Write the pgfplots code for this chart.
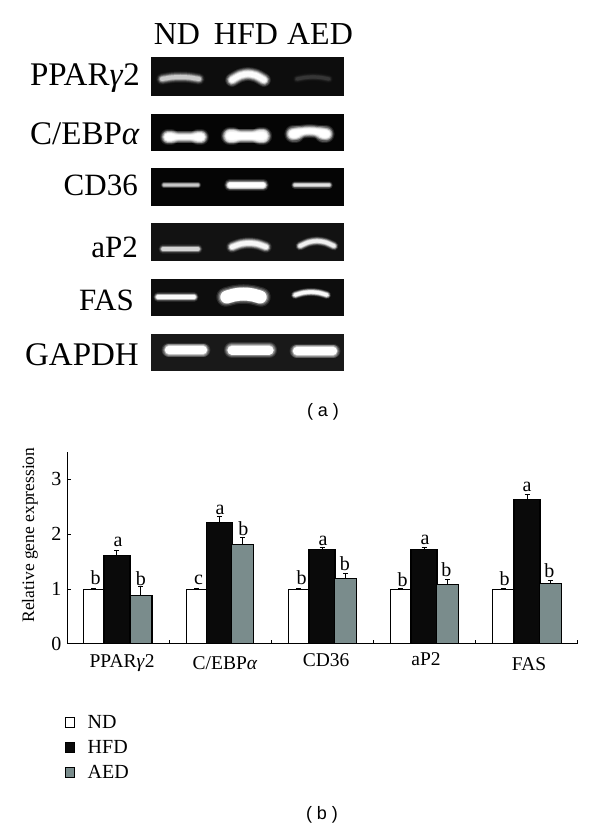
\documentclass[border=0pt]{standalone}
\usepackage{fontspec}
\setmainfont{Liberation Serif}
\newfontfamily\sansf{Liberation Sans}
\usepackage{pgfplots}
\usepackage{pgfplotstable}
\pgfplotsset{compat=1.18}

\definecolor{aedgray}{HTML}{7A8C8C}
\definecolor{barblack}{HTML}{0A0A0A}

% x (category units), value, upper error
\pgfplotstableread{
x     y    err
0.26  1.00 0.01
1.27  1.00 0.01
2.27  1.00 0.01
3.27  1.00 0.01
4.275 1.00 0.01
}\nddata
\pgfplotstableread{
x     y    err
0.49  1.62 0.09
1.494 2.22 0.10
2.50  1.72 0.03
3.50  1.72 0.03
4.51  2.63 0.10
}\hfddata
\pgfplotstableread{
x     y    err
0.725 0.89 0.15
1.72  1.81 0.13
2.733 1.20 0.085
3.73  1.09 0.085
4.738 1.11 0.055
}\aeddata

\newcommand{\fs}[1]{\fontsize{#1}{#1}\selectfont}
% gel panel: top, bottom, colour (pixel coordinates)
\newcommand{\panel}[3]{\addplot[draw=none,fill=#3] coordinates {(151,#1) (344,#1) (344,#2) (151,#2)} --cycle;}
% one layer of a band: x left, x right, y ends, y middle, line width, opacity
\newcommand{\bandlayer}[6]{%
  \addplot[white,opacity=#6,line cap=round,smooth,line width=#5] coordinates {
    (#1,#3)
    ({#1+0.25*(#2-#1)},{#3+0.75*(#4-#3)})
    ({#1+0.5*(#2-#1)},#4)
    ({#1+0.75*(#2-#1)},{#3+0.75*(#4-#3)})
    (#2,#3)};
}
% gel band: x left, x right, y at ends, y in the middle, thickness, brightness
\newcommand{\band}[6]{%
  \bandlayer{#1}{#2}{#3}{#4}{#5*1.15pt}{#6*0.12}
  \bandlayer{#1}{#2}{#3}{#4}{#5*1.0pt}{#6*0.2}
  \bandlayer{#1}{#2}{#3}{#4}{#5*0.85pt}{#6*0.3}
  \bandlayer{#1}{#2}{#3}{#4}{#5*0.7pt}{#6*0.5}
  \bandlayer{#1}{#2}{#3}{#4}{#5*0.55pt}{#6*0.7}
  \bandlayer{#1}{#2}{#3}{#4}{#5*0.4pt}{#6}
}

\begin{document}
\begin{tikzpicture}
\path[use as bounding box] (0,0) rectangle (600pt,832pt);

% gel photographs, in pixel coordinates of the page
\begin{axis}[
  at={(0pt,0pt)}, anchor=south west,
  scale only axis, width=600pt, height=832pt,
  xmin=0, xmax=600, ymin=0, ymax=832, y dir=reverse,
  hide axis, clip=false,
]
\panel{57}{96}{black!95!white}
\panel{114}{151}{black!98!white}
\panel{168}{206}{black!98!white}
\panel{223}{261}{black!93!white}
\panel{279}{316}{black!95!white}
\panel{334}{371}{black!90!white}

\band{162}{199}{79}{77}{10}{0.45}
\band{232}{264}{80}{74}{12}{0.9}
\band{297}{329}{79}{77}{8}{0.07}

\band{168}{201}{137}{137}{11}{0.9}
\band{168}{171}{137}{137}{14}{0.9}
\band{198}{201}{137}{137}{14}{0.9}
\band{230}{263}{136}{136}{13}{1}
\band{230}{233}{136}{136}{16}{1}
\band{260}{263}{136}{136}{16}{1}
\band{293}{326}{134}{131}{12}{1}
\band{293}{296}{134}{134}{15}{1}
\band{323}{326}{134}{134}{15}{1}

\band{164}{198}{185}{185}{6}{0.45}
\band{230}{263}{185}{185}{10}{1}
\band{295}{329}{185}{185}{7}{0.6}

\band{163}{198}{249}{249}{8}{0.5}
\band{232}{266}{247}{243}{10}{0.8}
\band{300}{334}{246}{241}{8}{0.7}

\band{158}{194}{297}{297}{8}{0.85}
\band{226}{261}{297}{294}{17}{1}
\bandlayer{227}{260}{297}{294}{13pt}{1}
\band{295}{327}{295}{292}{7}{0.85}

\band{169}{203}{350}{350}{13}{1}
\bandlayer{169}{203}{350}{350}{8pt}{1}
\band{232}{269}{350}{350}{14}{1}
\bandlayer{232}{269}{350}{350}{9pt}{1}
\band{297}{333}{351}{351}{13}{1}
\bandlayer{297}{333}{351}{351}{8pt}{1}

\node[anchor=base] at (axis cs:177,45) {\fs{32}ND};
\node[anchor=base] at (axis cs:246,45) {\fs{32}HFD};
\node[anchor=base] at (axis cs:320,45) {\fs{32}AED};
\node[anchor=base east,inner sep=0pt] at (axis cs:140,86) {\fs{33}PPAR\textit{γ}2};
\node[anchor=base east,inner sep=0pt] at (axis cs:140,144) {\fs{33}C/EBP\textit{α}};
\node[anchor=base east,inner sep=0pt] at (axis cs:138,195) {\fs{31}CD36};
\node[anchor=base east,inner sep=0pt] at (axis cs:138,257) {\fs{31}aP2};
\node[anchor=base east,inner sep=0pt] at (axis cs:134,310) {\fs{31}FAS};
\node[anchor=base east,inner sep=0pt] at (axis cs:139,365) {\fs{33}GAPDH};
\node at (axis cs:323,412) {\sansf\fs{18}( a )};
\node at (axis cs:322,815) {\sansf\fs{18}( b )};
\end{axis}

% bar chart
\begin{axis}[
  at={(67pt,188pt)}, anchor=south west,
  scale only axis, width=510pt, height=192pt,
  xmin=0, xmax=5, ymin=0, ymax=3.5,
  axis lines=left, axis line style={-,line width=1pt},
  ybar=0pt,
  xtick={0,1,2,3,4,5}, xticklabels={},
  ytick={0,1,2,3},
  tick align=inside, major tick length=3.5pt,
  tick style={black,line width=1pt},
  /pgf/number format/assume math mode=true,
  ticklabel style={font=\fs{20}},
  yticklabel style={xshift=-2pt},
  extra x ticks={0.54,1.55,2.54,3.52,4.53},
  extra x tick labels={PPAR\textit{γ}2,\raisebox{-2pt}{C/EBP\textit{α}},\raisebox{1pt}{CD36},\raisebox{2pt}{aP2},\raisebox{-3pt}{FAS}},
  extra x tick style={
    major tick length=0pt,
    xticklabel style={anchor=base,yshift=-24pt,font=\fs{19.5}},
  },
  ylabel={Relative gene expression},
  every axis y label/.style={at={(-37pt,109pt)},rotate=90,anchor=center,font=\fs{17.5}},
  error bars/y dir=plus, error bars/y explicit,
  error bars/error bar style={black,line width=1pt},
  error bars/error mark options={black,rotate=90,mark size=2.5pt,line width=1pt},
  legend style={
    at={(-5pt,-68pt)}, anchor=north west, draw=none, fill=none,
    font=\fs{20}, row sep=8.5pt, nodes={inner ysep=1pt},
  },
  legend cell align=left,
  legend image code/.code={\draw[#1,line width=1pt] (0pt,-5pt) rectangle (9pt,5pt); \path[draw=none,fill=none] (0pt,0pt) -- (20pt,0pt);},
]
\addplot[bar shift=0pt,bar width=20.5pt,draw=black,line width=1.1pt,fill=white]
  table[x=x,y=y,y error=err] {\nddata};
\addplot[bar shift=0pt,bar width=26pt,draw=black,line width=1.1pt,fill=barblack]
  table[x=x,y=y,y error=err] {\hfddata};
\addplot[bar shift=0pt,bar width=22pt,draw=black,line width=1.1pt,fill=aedgray]
  table[x=x,y=y,y error=err] {\aeddata};
\legend{ND,HFD,AED}

\node[anchor=base,font=\fs{20}] at (axis cs:0.28,1.09) {b};
\node[anchor=base,font=\fs{20}] at (axis cs:1.29,1.09) {c};
\node[anchor=base,font=\fs{20}] at (axis cs:2.30,1.08) {b};
\node[anchor=base,font=\fs{20}] at (axis cs:3.29,1.04) {b};
\node[anchor=base,font=\fs{20}] at (axis cs:4.29,1.06) {b};
\node[anchor=base,font=\fs{20}] at (axis cs:0.50,1.78) {a};
\node[anchor=base,font=\fs{20}] at (axis cs:1.50,2.36) {a};
\node[anchor=base,font=\fs{20}] at (axis cs:2.51,1.80) {a};
\node[anchor=base,font=\fs{20}] at (axis cs:3.51,1.81) {a};
\node[anchor=base,font=\fs{20}] at (axis cs:4.51,2.78) {a};
\node[anchor=base,font=\fs{20}] at (axis cs:0.725,1.07) {b};
\node[anchor=base,font=\fs{20}] at (axis cs:1.73,1.98) {b};
\node[anchor=base,font=\fs{20}] at (axis cs:2.725,1.345) {b};
\node[anchor=base,font=\fs{20}] at (axis cs:3.72,1.236) {b};
\node[anchor=base,font=\fs{20}] at (axis cs:4.73,1.206) {b};
\end{axis}
\end{tikzpicture}
\end{document}
